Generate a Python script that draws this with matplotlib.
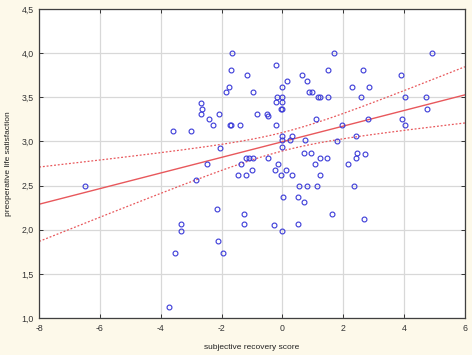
import matplotlib
matplotlib.use('Agg')
from matplotlib import pyplot as plt
from matplotlib.ticker import FuncFormatter
import numpy as np

# subjective recovery score (x) and preoperative life satisfaction (y)
recovery = [
    -6.50, -3.72, -3.52, -3.34, -3.34, -2.84, -2.16, -2.12, -1.95, -3.59,
    -3.00, -2.69, -2.66, -2.69, -2.42, -2.30, -2.10, -2.05, -2.47, -1.85,
    -1.75, -1.69, -1.65, -1.74, -1.70, -1.38, -1.37, -1.46, -1.21, -1.21,
    -1.09, -0.97, -0.48, -0.99, -0.25, 0.13, -0.16, -0.04, 0.33, 1.22,
    1.06, 2.17, -0.20, -1.16, -0.97, -0.18, 0.00, -0.20, 0.00, 0.16,
    0.63, 0.82, 0.86, 0.98, 1.17, 1.25, 1.51, 1.51, 1.68, 2.65,
    2.28, 2.85, 2.57, 3.91, 4.03, 4.72, 4.74, 4.92, -0.05, 0.00,
    -0.84, -0.51, -0.48, -0.22, 1.09, 1.97, 2.81, 3.92, 4.04, 0.00,
    0.30, 0.00, 0.25, 0.73, 1.78, 2.42, 0.00, 0.71, 0.95, 2.46,
    2.70, 2.43, 1.22, 1.46, 0.55, 0.82, 1.13, 2.36, 0.02, 0.52,
    0.71, -1.25, 1.62, -1.27, -0.28, 0.52, 0.00, 2.68, 0.00,
]
satisfaction = [
    2.50, 1.12, 1.74, 2.06, 1.99, 2.56, 2.24, 1.87, 1.74, 3.12,
    3.12, 3.43, 3.37, 3.31, 3.25, 3.19, 3.31, 2.93, 2.74, 3.56,
    3.62, 3.81, 4.00, 3.19, 3.19, 3.19, 2.74, 2.62, 2.62, 2.81,
    2.81, 2.81, 2.81, 2.68, 2.68, 2.68, 2.74, 2.62, 2.62, 2.62,
    2.74, 2.74, 3.87, 3.75, 3.56, 3.50, 3.50, 3.45, 3.62, 3.68,
    3.75, 3.68, 3.56, 3.56, 3.50, 3.50, 3.50, 3.81, 4.00, 3.81,
    3.62, 3.62, 3.50, 3.75, 3.50, 3.50, 3.37, 4.00, 3.37, 3.37,
    3.31, 3.31, 3.29, 3.19, 3.25, 3.19, 3.25, 3.25, 3.19, 3.06,
    3.06, 3.02, 3.02, 3.02, 3.00, 3.06, 2.94, 2.87, 2.87, 2.87,
    2.86, 2.81, 2.81, 2.81, 2.50, 2.50, 2.50, 2.50, 2.37, 2.37,
    2.31, 2.18, 2.18, 2.06, 2.05, 2.06, 1.99, 2.12, 3.45,
]

x_ticks = [-8, -6, -4, -2, 0, 2, 4, 6]
y_ticks = [1.0, 1.5, 2.0, 2.5, 3.0, 3.5, 4.0, 4.5]

plt.rcParams['font.family'] = ['Liberation Sans', 'DejaVu Sans']

x = np.array(recovery)
y = np.array(satisfaction)
n = len(x)

# linear fit with 95% confidence band
slope, intercept = np.polyfit(x, y, 1)
resid = y - (slope * x + intercept)
s = np.sqrt(np.sum(resid ** 2) / (n - 2))
t = 1.98
xs = np.linspace(-8, 6, 200)
fit = slope * xs + intercept
se = s * np.sqrt(1 / n + (xs - x.mean()) ** 2 / np.sum((x - x.mean()) ** 2))

fig = plt.figure(figsize=(4.72, 3.55), dpi=100, facecolor='#fdf9ea')
ax = fig.add_axes([0.083, 0.104, 0.902, 0.871])
ax.set_facecolor('white')

ax.grid(True, color='#d8d8d8', linewidth=0.9)
ax.set_axisbelow(True)

ax.plot(xs, fit, color='#e8585c', linewidth=1.0)
ax.plot(xs, fit + t * se, color='#e8585c', linewidth=0.9, linestyle=(0, (1.5, 1.5)))
ax.plot(xs, fit - t * se, color='#e8585c', linewidth=0.9, linestyle=(0, (1.5, 1.5)))

ax.plot(x, y, linestyle='none', marker='o', markersize=3.5, markerfacecolor='none',
        markeredgecolor='#3a3ad8', markeredgewidth=0.8)

ax.set_xlim(-8, 6)
ax.set_ylim(1.0, 4.5)
ax.set_xticks(x_ticks)
ax.set_yticks(y_ticks)
ax.yaxis.set_major_formatter(FuncFormatter(lambda v, p: f'{v:.1f}'.replace('.', ',')))
ax.xaxis.set_major_formatter(FuncFormatter(lambda v, p: f'{v:g}'))
ax.tick_params(direction='in', length=3, width=0.7, labelsize=6.3, colors='#333333',
               top=True, right=True, pad=4)

for sp in ax.spines.values():
    sp.set_color('#404040')
    sp.set_linewidth(0.9)

ax.set_xlabel('subjective recovery score', fontsize=6, color='#222222', labelpad=8)
ax.set_ylabel('preoperative life satisfaction', fontsize=6, color='#222222', labelpad=7)

fig.savefig('out.png', dpi=100, facecolor=fig.get_facecolor())
